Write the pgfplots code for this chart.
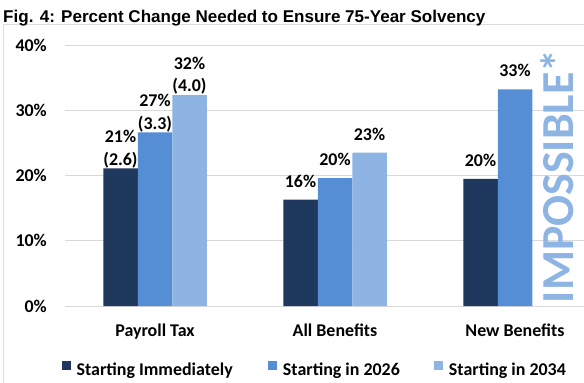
\documentclass[border=0pt]{standalone}
\usepackage{pgfplots}
\pgfplotsset{compat=1.18}
\usepackage{fontspec}
\setmainfont{Carlito}
\newfontfamily\titlefont{Liberation Sans}
\definecolor{cA}{RGB}{30,56,94}
\definecolor{cB}{RGB}{85,142,213}
\definecolor{cC}{RGB}{142,180,227}
\definecolor{cgrid}{RGB}{217,217,217}
\definecolor{cbox}{RGB}{222,222,222}
\DeclareRobustCommand{\twol}[2]{\raisebox{-9.3bp}{\begin{tabular}[b]{@{}c@{}}#1\\[0.8pt]#2\end{tabular}}}
\begin{document}
\begin{tikzpicture}
\useasboundingbox (0,0) rectangle (584bp,383bp);
\draw[cbox, line width=0.8bp] (3.4bp,-20bp) -- (3.4bp,359bp) -- (640bp,359bp);
\node[anchor=base west, inner sep=0pt, font=\titlefont\bfseries\fontsize{17.1}{20}\selectfont] at (3bp,360.5bp) {Fig. 4: Percent Change Needed to Ensure 75-Year Solvency};
\begin{axis}[
  at={(65bp,77bp)}, anchor=south west,
  scale only axis, width=519bp, height=261bp,
  xmin=-0.5, xmax=2.3833, ymin=0, ymax=40,
  ybar=0pt, bar width=34.5bp,
  axis line style={draw=none},
  major tick length=0pt,
  ymajorgrids, grid style={cgrid, line width=0.8bp},
  xtick={0,1,2}, xticklabels={Payroll Tax, All Benefits, New Benefits},
  ytick={0,10,20,30,40}, yticklabels={0\%,10\%,20\%,30\%,40\%},
  tick label style={font=\bfseries\fontsize{18}{21.6}\selectfont, text=black},
  yticklabel style={anchor=east, inner sep=0pt, xshift=-18bp},
  xticklabel style={anchor=base, inner sep=0pt, yshift=-30.7bp},
  clip=false,
  point meta=explicit symbolic,
  nodes near coords,
  every node near coord/.append style={font=\bfseries\fontsize{18}{21.6}\selectfont, text=black, anchor=base, inner sep=0pt, yshift=12.6bp},
  legend columns=3,
  legend style={at={(0,0)}, anchor=west, xshift=-3.3bp, yshift=-62.8bp,
    draw=none, fill=none, inner sep=0pt, outer sep=0pt,
    font=\bfseries\fontsize{18}{21.6}\selectfont,
    nodes={inner sep=0pt},
    /tikz/every odd column/.append style={column sep=6bp},
    /tikz/every even column/.append style={column sep=0bp}},
  legend image code/.code={\fill[#1] (0bp,0bp) rectangle (9bp,9.4bp);},
]
\addplot[fill=cA, draw=none] coordinates {(0,21.1) [\twol{21\%}{(2.6)}] (1,16.3) [16\%] (2,19.5) [20\%]};
\addplot[fill=cB, draw=none] coordinates {(0,26.6) [\twol{27\%}{(3.3)}] (1,19.6) [20\%] (2,33.2) [33\%]};
\addplot[fill=cC, draw=none] coordinates {(0,32.3) [\twol{32\%}{(4.0)}] (1,23.5) [23\%]};
\legend{\makebox[191.3bp][l]{Starting Immediately},\makebox[151bp][l]{Starting in 2026},Starting in 2034}
\node[rotate=90, anchor=base west, inner sep=0pt, text depth=0pt, text=cC, font=\bfseries\fontsize{46}{50}\selectfont] at (axis cs:2.327,0.4) {IMPOSSIBLE*};
\end{axis}
\end{tikzpicture}
\end{document}
